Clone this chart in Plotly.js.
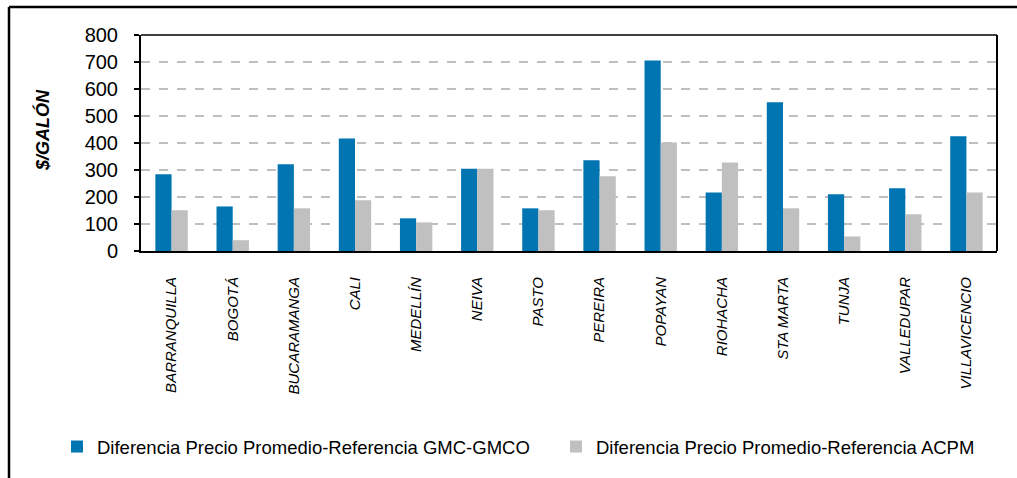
<!DOCTYPE html>
<html>
<head>
<meta charset="utf-8">
<script src="https://cdn.plot.ly/plotly-3.0.1.min.js"></script>
<style>
  html, body { margin: 0; padding: 0; background: #fff; }
  #chart { width: 1017px; height: 478px; }
</style>
</head>
<body>
<div id="chart"></div>
<script>
const cities = ["BARRANQUILLA", "BOGOTÁ", "BUCARAMANGA", "CALI", "MEDELLÍN", "NEIVA", "PASTO", "PEREIRA", "POPAYAN", "RIOHACHA", "STA MARTA", "TUNJA", "VALLEDUPAR", "VILLAVICENCIO"];
const gmcValues = [284, 165, 321, 417, 121, 305, 158, 336, 706, 217, 551, 210, 232, 425];
const acpmValues = [151, 40, 158, 188, 106, 305, 151, 277, 402, 328, 158, 54, 136, 217];
const seriesNames = ["Diferencia Precio Promedio-Referencia GMC-GMCO", "Diferencia Precio Promedio-Referencia ACPM"];
const yTickValues = [0, 100, 200, 300, 400, 500, 600, 700, 800];
const yAxisTitle = "$/GALÓN";

const font = "Arial, 'Liberation Sans', sans-serif";

const traces = [
  { type: "bar", x: cities, y: gmcValues, name: seriesNames[0], marker: { color: "#0075B2" }, hoverinfo: "x+y", legend: "legend" },
  { type: "bar", x: cities, y: acpmValues, name: seriesNames[1], marker: { color: "#C0C0C0" }, hoverinfo: "x+y", legend: "legend2" }
];

const L = 141, R = 20, T = 35, B = 227;
const W = 1017 - L - R, H = 478 - T - B;

const legendBase = {
  orientation: "h",
  xanchor: "left",
  y: (251 - 447) / H, yanchor: "middle",
  font: { family: font, size: 18.5, color: "#000" },
  itemwidth: 30,
  bgcolor: "rgba(0,0,0,0)"
};

const layout = {
  width: 1017, height: 478,
  margin: { l: L, r: R, t: T, b: B, pad: 0 },
  paper_bgcolor: "#ffffff",
  plot_bgcolor: "#ffffff",
  font: { family: font, color: "#000" },
  barmode: "group",
  bargap: 0.47,
  bargroupgap: 0,
  showlegend: true,
  legend: Object.assign({}, legendBase, { x: (57 - L) / W }),
  legend2: Object.assign({}, legendBase, { x: (556 - L) / W }),
  xaxis: {
    type: "category",
    tickangle: -90,
    tickfont: { family: font, size: 15, color: "#000", style: "italic" },
    showline: true, linecolor: "#000", linewidth: 2,
    mirror: false,
    ticks: "", showgrid: false,
    ticklabelstandoff: 18
  },
  yaxis: {
    range: [0, 800],
    tickvals: yTickValues,
    tickfont: { family: font, size: 20, color: "#000" },
    showline: true, linecolor: "#000", linewidth: 2,
    ticks: "outside", ticklen: 5, tickcolor: "#000", tickwidth: 1.5,
    showgrid: true, gridcolor: "#BFBFBF", griddash: "dash", gridwidth: 1.5,
    zeroline: false,
    ticklabelstandoff: 12
  },
  shapes: [
    { type: "line", xref: "paper", yref: "paper", x0: 0, x1: 1, y0: 1, y1: 1, line: { color: "#000", width: 1.5 } },
    { type: "line", xref: "paper", yref: "paper", x0: 1, x1: 1, y0: 0, y1: 1, line: { color: "#000", width: 2 } },
    { type: "line", xref: "paper", yref: "paper", x0: (9 - L) / W, x1: (1030 - L) / W, y0: 1 + (T - 7) / H, y1: 1 + (T - 7) / H, line: { color: "#000", width: 2.5 } },
    { type: "line", xref: "paper", yref: "paper", x0: (9 - L) / W, x1: (9 - L) / W, y0: 1 + (T - 7) / H, y1: (251 - 490) / H, line: { color: "#000", width: 2.5 } }
  ],
  annotations: [
    { text: "<b><i>" + yAxisTitle + "</i></b>", xref: "paper", yref: "paper", x: (42 - L) / W, y: (251 - 130) / H, xanchor: "center", yanchor: "middle", textangle: -90, showarrow: false, font: { family: font, size: 18, color: "#000" } }
  ]
};

Plotly.newPlot("chart", traces, layout, { displayModeBar: false, staticPlot: true });
</script>
</body>
</html>
